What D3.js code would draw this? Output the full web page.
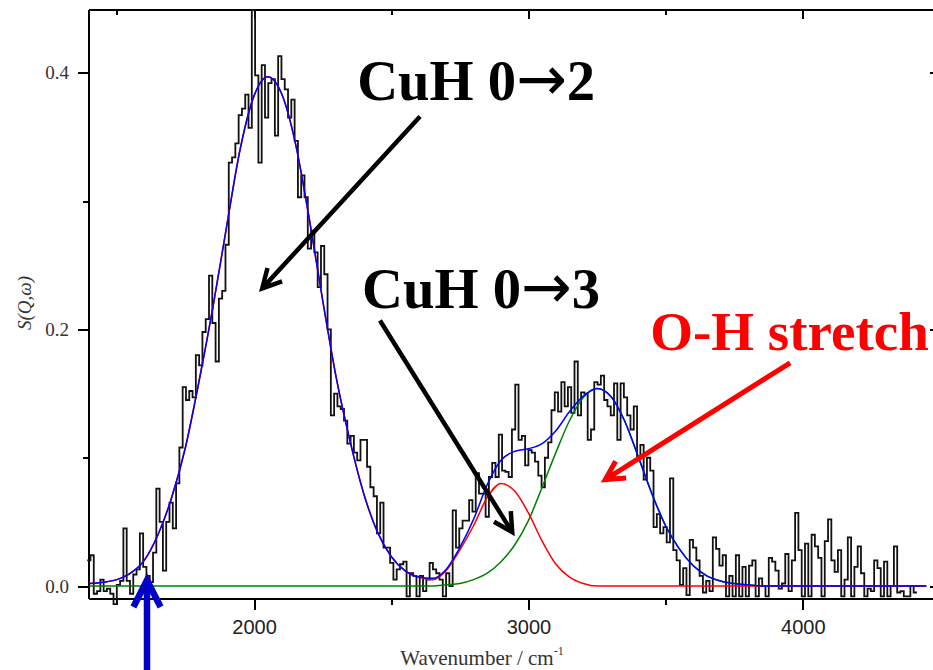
<!DOCTYPE html>
<html>
<head>
<meta charset="utf-8">
<script src="https://cdn.jsdelivr.net/npm/d3@7/dist/d3.min.js"></script>
<style>
  body { margin: 0; background: #fff; }
  .axis path, .axis line { stroke: #000; stroke-width: 2; shape-rendering: crispEdges; }
  .ylab text { font-family: "Liberation Serif", "Times New Roman", serif; font-size: 19px; fill: #333; }
  .xlab text { font-family: "Liberation Sans", Arial, sans-serif; font-size: 20px; fill: #222; }
</style>
</head>
<body>
<div id="chart"></div>
<script>
// measured spectrum, histogram bins 12 cm-1 wide starting at 1392 cm-1
var binStart = 1392;
var binWidth = 12;
var counts = [
  0.020, 0.024, -0.006, -0.004, 0.005, -0.004, -0.002, -0.006, -0.014, 0.001, 0.004, 0.045,
  0.004, -0.006, 0.009, 0.013, 0.041, 0.015, 0.008, 0.003, 0.026, 0.076, 0.050, 0.012,
  0.050, 0.065, 0.045, 0.080, 0.108, 0.155, 0.145, 0.152, 0.147, 0.180, 0.172, 0.198,
  0.208, 0.242, 0.205, 0.175, 0.224, 0.230, 0.266, 0.330, 0.334, 0.345, 0.367, 0.372,
  0.383, 0.357, 0.449, 0.398, 0.330, 0.406, 0.365, 0.392, 0.395, 0.351, 0.413, 0.395,
  0.387, 0.365, 0.379, 0.347, 0.303, 0.320, 0.303, 0.263, 0.277, 0.260, 0.233, 0.265,
  0.243, 0.200, 0.133, 0.150, 0.140, 0.138, 0.129, 0.111, 0.117, 0.104, 0.098, 0.114,
  0.114, 0.093, 0.077, 0.070, 0.041, 0.065, 0.030, 0.030, 0.018, 0.005, 0.013, 0.017,
  0.019, -0.008, 0.010, 0.008, -0.008, 0.008, -0.004, 0.005, 0.018, 0.013, 0.010, 0.005,
  -0.008, 0.010, 0.000, 0.059, 0.030, 0.045, 0.051, 0.051, 0.067, 0.058, 0.088, 0.072,
  0.072, 0.054, 0.085, 0.096, 0.085, 0.118, 0.090, 0.089, 0.085, 0.122, 0.157, 0.114,
  0.117, 0.094, 0.106, 0.104, 0.097, 0.086, 0.077, 0.100, 0.112, 0.137, 0.151, 0.136,
  0.159, 0.140, 0.155, 0.135, 0.175, 0.133, 0.151, 0.150, 0.114, 0.122, 0.159, 0.157,
  0.164, 0.145, 0.140, 0.133, 0.158, 0.114, 0.158, 0.147, 0.133, 0.122, 0.140, 0.101,
  0.110, 0.083, 0.100, 0.090, 0.046, 0.056, 0.041, 0.046, 0.034, 0.084, 0.028, 0.020,
  0.001, 0.014, -0.007, 0.036, 0.030, 0.020, 0.008, -0.005, 0.004, -0.004, 0.038, 0.029,
  0.016, 0.024, -0.008, 0.008, -0.008, 0.024, -0.008, 0.015, -0.008, 0.016, 0.020, -0.008,
  0.006, 0.000, -0.008, 0.022, 0.019, 0.012, -0.002, 0.002, 0.025, -0.004, 0.020, 0.057,
  0.028, -0.008, 0.033, -0.008, 0.040, 0.031, 0.022, -0.008, 0.035, 0.052, 0.020, 0.011,
  0.028, -0.008, 0.005, 0.038, -0.008, 0.015, 0.031, 0.010, -0.008, -0.002, -0.004, 0.020,
  0.014, -0.008, 0.019, -0.008, 0.000, 0.031, -0.005, -0.004, -0.008, -0.008, 0.000, -0.005
];

var fitWn = [
  1400, 1450, 1500, 1550, 1600, 1650, 1700, 1750, 1800, 1850, 1900, 1950, 2000, 2050, 2100, 2150,
  2200, 2250, 2300, 2350, 2400, 2450, 2500, 2550, 2600, 2650, 2700, 2750, 2800, 2850, 2900, 2950,
  3000, 3050, 3100, 3150, 3200, 3250, 3300, 3350, 3400, 3450, 3500, 3550, 3600, 3650, 3700, 3750,
  3800, 3850, 3900, 3950, 4000, 4050, 4100, 4150, 4200, 4250, 4300, 4350, 4400, 4450
];
var fitTotal = [
  0.002, 0.003, 0.005, 0.010, 0.020, 0.040, 0.069, 0.108, 0.160, 0.217, 0.280, 0.341, 0.382, 0.397, 0.384, 0.346,
  0.288, 0.223, 0.162, 0.113, 0.072, 0.042, 0.023, 0.012, 0.007, 0.006, 0.013, 0.030, 0.052, 0.079, 0.098, 0.105,
  0.107, 0.111, 0.121, 0.136, 0.148, 0.154, 0.148, 0.129, 0.101, 0.072, 0.047, 0.029, 0.016, 0.008, 0.004, 0.002,
  0.001, 0, 0, 0, 0, 0, 0, 0, 0, 0, 0, 0, 0, 0
];
var fitCuH = [
  0.002, 0.003, 0.005, 0.010, 0.020, 0.040, 0.069, 0.108, 0.160, 0.217, 0.280, 0.341, 0.382, 0.397, 0.384, 0.346,
  0.288, 0.223, 0.162, 0.113, 0.072, 0.042, 0.023, 0.012, 0.007, 0.005, 0.012, 0.028, 0.047, 0.069, 0.080, 0.074,
  0.057, 0.035, 0.017, 0.007, 0.002, 0, 0, 0, 0, 0, 0, 0, 0, 0, 0, 0,
  0, 0, 0, 0, 0, 0, 0, 0, 0, 0, 0, 0, 0, 0
];
var fitOH = [
  0, 0, 0, 0, 0, 0, 0, 0, 0, 0, 0, 0, 0, 0, 0, 0,
  0, 0, 0, 0, 0, 0, 0, 0, 0, 0, 0.001, 0.002, 0.005, 0.010, 0.019, 0.032,
  0.051, 0.077, 0.104, 0.129, 0.147, 0.154, 0.148, 0.129, 0.101, 0.072, 0.047, 0.029, 0.016, 0.008, 0.004, 0.002,
  0.001, 0, 0, 0, 0, 0, 0, 0, 0, 0, 0, 0, 0, 0
];

var xTicks = [2000, 3000, 4000];
var xMinor = [1500, 2500, 3500];
var yTicks = [0, 0.2, 0.4];
var yMinor = [0.1, 0.3];

// annotations (in data units); each label is [before arrow, arrow, after]
var labelParts = [["CuH 0", "\u2192", "2"], ["CuH 0", "\u2192", "3"], ["O-H stretch"]];
var labelWn = [2376, 2394, 3444];
var labelS = [0.379, 0.2166, 0.184];
var labelColor = ["#000", "#000", "#ff0000"];

var arrowFromWn = [2605, 2459, 3954, 1610];
var arrowFromS = [0.366, 0.207, 0.174, -0.066];
var arrowToWn = [2030, 2941, 3280, 1610];
var arrowToS = [0.232, 0.042, 0.083, 0.0045];
var arrowColor = ["#000", "#000", "#ff0000", "#0000c8"];


var W = 933, H = 670;
var margin = { top: 9, right: -7, bottom: 72, left: 88 };
var width = W - margin.left - margin.right,
    height = H - margin.top - margin.bottom;

var root = d3.select("#chart").append("svg")
    .attr("width", W)
    .attr("height", H);

var svg = root.append("g")
    .attr("transform", "translate(" + margin.left + "," + margin.top + ")");

var x = d3.scaleLinear().domain([1395, 4500]).range([0, width]);
var y = d3.scaleLinear().domain([-0.0093, 0.4497]).range([height, 0]);

// frame + ticks
function addAxis(gen, cls, tr, ticks, size, labels) {
    var g = svg.append("g")
        .attr("class", "axis " + cls)
        .attr("transform", tr)
        .call(gen.tickValues(ticks).tickSize(size).tickSizeOuter(0)
            .tickFormat(labels ? labels : ""));
    return g;
}

addAxis(d3.axisBottom(x).tickPadding(10), "xlab", "translate(0," + height + ")", xTicks, 12, d3.format("d"));
addAxis(d3.axisBottom(x), "", "translate(0," + height + ")", xMinor, 7, null);
addAxis(d3.axisTop(x), "", "", xTicks, -10, null);
addAxis(d3.axisTop(x), "", "", xMinor, -6, null);
addAxis(d3.axisLeft(y).tickPadding(9), "ylab", "", yTicks, 10, d3.format(".1f"));
addAxis(d3.axisLeft(y), "", "", yMinor, 5, null);
addAxis(d3.axisRight(y), "", "translate(" + width + ",0)", yTicks, -10, null);
addAxis(d3.axisRight(y), "", "translate(" + width + ",0)", yMinor, -6, null);

svg.selectAll(".xlab text").attr("dy", "0.71em");

// measured histogram
var histPts = counts.map(function (v, i) { return [binStart + i * binWidth, v]; });
histPts.push([binStart + counts.length * binWidth, counts[counts.length - 1]]);

var stepLine = d3.line()
    .x(function (d) { return x(d[0]); })
    .y(function (d) { return y(d[1]); })
    .curve(d3.curveStepAfter);

svg.append("path")
    .datum(histPts)
    .attr("fill", "none")
    .attr("stroke", "#111")
    .attr("stroke-width", 1.8)
    .attr("d", stepLine);

// fitted components
var fitLine = d3.line()
    .x(function (d, i) { return x(fitWn[i]); })
    .y(function (d) { return y(d); })
    .curve(d3.curveMonotoneX);

var fits = [
    { vals: fitOH, color: "#008000" },
    { vals: fitCuH, color: "#ff0000" },
    { vals: fitTotal, color: "#0000ff" }
];

svg.selectAll(".fit")
    .data(fits)
    .enter()
    .append("path")
    .attr("class", "fit")
    .attr("fill", "none")
    .attr("stroke", function (d) { return d.color; })
    .attr("stroke-width", 1.5)
    .attr("d", function (d) { return fitLine(d.vals); });

// axis titles
root.append("text")
    .attr("x", 482)
    .attr("y", 665)
    .attr("text-anchor", "middle")
    .style("font-family", "'Liberation Serif', 'Times New Roman', serif")
    .style("font-size", "21px")
    .style("fill", "#333")
    .text("Wavenumber / cm")
    .append("tspan")
    .attr("dy", -10)
    .style("font-size", "12px")
    .text("-1");

root.append("text")
    .attr("transform", "translate(31,303) rotate(-90)")
    .attr("text-anchor", "middle")
    .style("font-family", "'Liberation Serif', 'Times New Roman', serif")
    .style("font-style", "italic")
    .style("font-size", "19px")
    .style("fill", "#333")
    .text("S(Q,\u03c9)");

// annotation labels
var notes = svg.selectAll(".note")
    .data(labelParts)
    .enter()
    .append("text")
    .attr("class", "note")
    .attr("x", function (d, i) { return x(labelWn[i]); })
    .attr("y", function (d, i) { return y(labelS[i]); })
    .attr("textLength", function (d) { return d.length > 1 ? 238 : null; })
    .attr("lengthAdjust", "spacingAndGlyphs")
    .style("font-family", "'Liberation Serif', 'Times New Roman', serif")
    .style("font-weight", "bold")
    .style("font-size", function (d) { return d.length > 1 ? "58px" : "55px"; })
    .style("fill", function (d, i) { return labelColor[i]; });

notes.append("tspan").text(function (d) { return d[0]; });
notes.filter(function (d) { return d.length > 1; })
    .append("tspan")
    .style("font-family", "'DejaVu Sans', sans-serif")
    .style("font-weight", "normal")
    .style("font-size", "62px")
    .text(function (d) { return d[1]; });
notes.filter(function (d) { return d.length > 1; })
    .append("tspan")
    .text(function (d) { return d[2]; });

// arrows with open chevron heads
function arrowPath(i) {
    var x1 = x(arrowFromWn[i]), y1 = y(arrowFromS[i]),
        x2 = x(arrowToWn[i]), y2 = y(arrowToS[i]);
    var ang = Math.atan2(y1 - y2, x1 - x2);
    var len = i == 3 ? 30 : 21, spread = i == 3 ? 0.47 : 0.49;
    var b1 = [x2 + len * Math.cos(ang + spread), y2 + len * Math.sin(ang + spread)];
    var b2 = [x2 + len * Math.cos(ang - spread), y2 + len * Math.sin(ang - spread)];
    return "M" + x1 + "," + y1 + "L" + x2 + "," + y2 +
        "M" + b1[0] + "," + b1[1] + "L" + x2 + "," + y2 + "L" + b2[0] + "," + b2[1];
}

svg.selectAll(".arrow")
    .data(arrowColor)
    .enter()
    .append("path")
    .attr("class", "arrow")
    .attr("fill", "none")
    .attr("stroke", function (d) { return d; })
    .attr("stroke-width", function (d, i) { return i == 3 ? 6.5 : (i == 2 ? 5 : 4.5); })
    .attr("stroke-linejoin", "miter")
    .attr("d", function (d, i) { return arrowPath(i); });
</script>
</body>
</html>
